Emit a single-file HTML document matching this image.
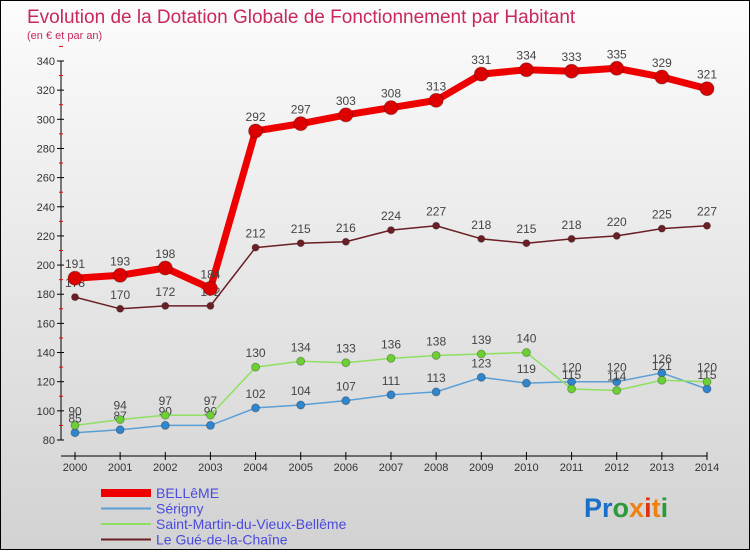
<!DOCTYPE html>
<html><head><meta charset="utf-8"><style>
body{margin:0;width:750px;height:550px;overflow:hidden;font-family:"Liberation Sans",sans-serif}
#wrap{position:absolute;left:0;top:0;width:748px;height:548px;border:1px solid #000;background:linear-gradient(#fcfcfc,#d2d2d2)}
</style></head><body>
<div id="wrap">
<svg id="svg" width="748" height="548" xmlns="http://www.w3.org/2000/svg">
<text x="26" y="22" font-size="19" fill="#c8285a">Evolution de la Dotation Globale de Fonctionnement par Habitant</text>
<text x="26" y="38" font-size="11" fill="#c8285a">(en € et par an)</text>
<g id="plot"></g>
<g id="legend"></g>
<text x="583" y="516" font-size="27" font-weight="bold"><tspan fill="#1a6fc8">Pr</tspan><tspan fill="#2a9a3a">o</tspan><tspan fill="#f08010">x</tspan><tspan fill="#e03010">i</tspan><tspan fill="#f08010">t</tspan><tspan fill="#2a9a3a">i</tspan></text>
</svg></div>
<script>
const years=[2000,2001,2002,2003,2004,2005,2006,2007,2008,2009,2010,2011,2012,2013,2014];
const yTicks=[80,100,120,140,160,180,200,220,240,260,280,300,320,340];
const belleme=[191,193,198,184,292,297,303,308,313,331,334,333,335,329,321];
const serigny=[85,87,90,90,102,104,107,111,113,123,119,120,120,126,115];
const stMartin=[90,94,97,97,130,134,133,136,138,139,140,115,114,121,120];
const leGue=[178,170,172,172,212,215,216,224,227,218,215,218,220,225,227];
const NS="http://www.w3.org/2000/svg";
const plot=document.getElementById('plot');
const xS=i=>74+i*(632/(years.length-1));
const yS=v=>439-(v-80)*(379/260);
function mk(t,a,p){const e=document.createElementNS(NS,t);for(const k in a)e.setAttribute(k,a[k]);(p||plot).appendChild(e);return e;}
let ax=mk('line',{x1:60,y1:yS(340),x2:60,y2:yS(80),stroke:'#000'});


let bx=mk('line',{x1:60,y1:455,x2:xS(14),y2:455,stroke:'#000'});


yTicks.forEach(v=>{mk('line',{x1:56,y1:yS(v),x2:63,y2:yS(v),stroke:'#000'});
 mk('line',{x1:58,y1:yS(v+10),x2:62,y2:yS(v+10),stroke:'#e00'});
 const t=mk('text',{x:54,y:yS(v)+4,'text-anchor':'end','font-size':11,fill:'#333'});t.textContent=v;
 
 });
years.forEach((y,i)=>{mk('line',{x1:xS(i),y1:451,x2:xS(i),y2:459,stroke:'#000'});
 const t=mk('text',{x:xS(i),y:470,'text-anchor':'middle','font-size':11,fill:'#333'});t.textContent=y;
 
 });
function series(d,col,w,r,dot,name){
 const g=mk('g',{});
 
 
 mk('polyline',{points:d.map((v,i)=>xS(i)+','+yS(v)).join(' '),fill:'none',stroke:col,'stroke-width':w,'stroke-linejoin':'round'},g);
 d.forEach((v,i)=>{const c=mk('circle',{cx:xS(i),cy:yS(v),r:r,fill:dot,stroke:'#0004'},g);
  
  
  const t=mk('text',{x:xS(i),y:yS(v)-10,'text-anchor':'middle','font-size':12,fill:'#444'},g);t.textContent=v;
  
  });
}
series(serigny,'#5a9ed6',1.5,4,'#2f86cc','series-serigny');
series(stMartin,'#8ee060',1.5,4,'#6cd034','series-saint-martin');
series(leGue,'#6b1f25',1.5,3.5,'#6b1f25','series-le-gue');
series(belleme,'#ee0000',7,7,'#dd0000','series-belleme');
const legNames=['BELLêME','Sérigny','Saint-Martin-du-Vieux-Bellême','Le Gué-de-la-Chaîne'];
const legCols=['#ee0000','#5a9ed6','#8ee060','#6b1f25'];
const legW=[8,2,2,2];
const lg=document.getElementById('legend');
legNames.forEach((n,i)=>{const y=492+i*15.5;
 const l=mk('line',{x1:100,y1:y,x2:150,y2:y,stroke:legCols[i],'stroke-width':legW[i]},lg);
 
 
 const t=mk('text',{x:155,y:y+5,'font-size':14,fill:'#4a4ae0'},lg);t.textContent=n;
 
 });
</script>
</body></html>
